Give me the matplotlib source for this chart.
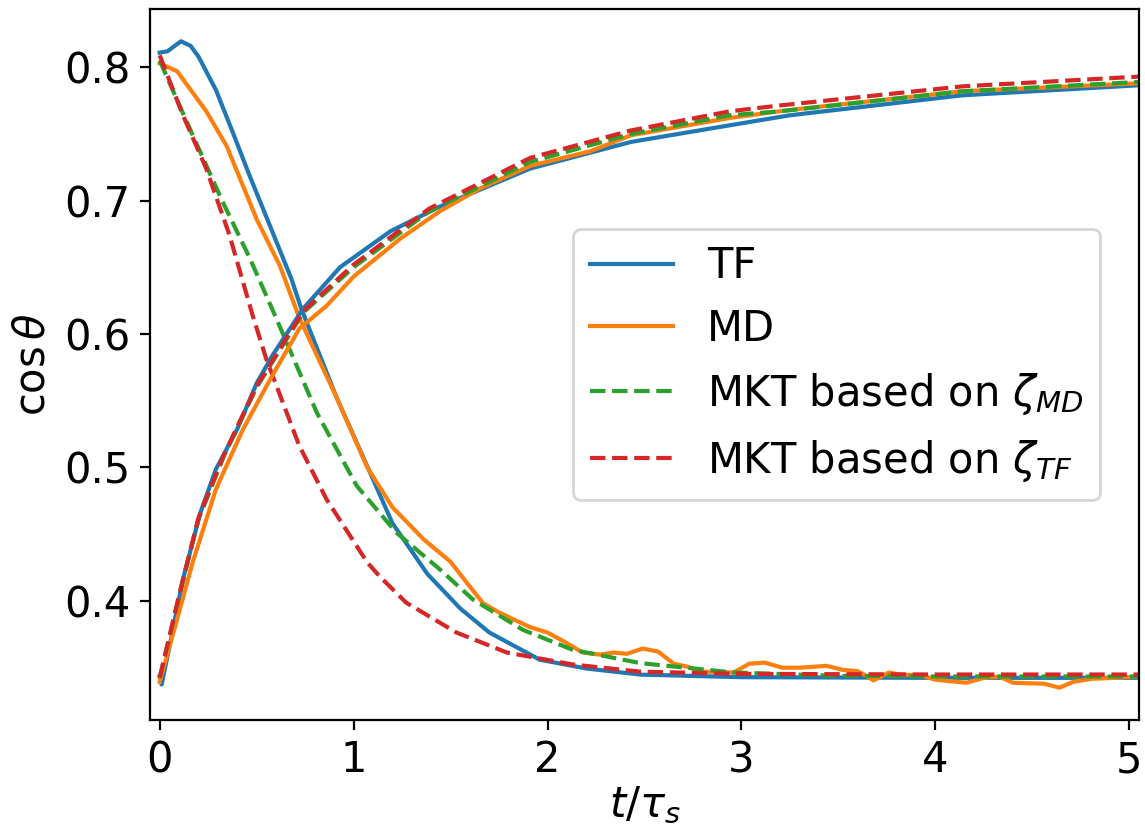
import matplotlib
matplotlib.use("Agg")
import matplotlib.pyplot as plt
import numpy as np

# decreasing curves
tf_dn_t = [0, 0.04, 0.11, 0.16, 0.2, 0.29, 0.38, 0.46, 0.58, 0.68, 0.73, 0.91, 1.10, 1.20, 1.38, 1.55, 1.70, 1.96, 2.2, 2.48, 3.0, 4.0, 5.05]
tf_dn = [0.811, 0.812, 0.8195, 0.816, 0.808, 0.783, 0.75, 0.72, 0.677, 0.641, 0.619, 0.553, 0.491, 0.458, 0.420, 0.394, 0.376, 0.3556, 0.349, 0.3444, 0.3425, 0.342, 0.342]

md_dn_t = [0, 0.09, 0.24, 0.345, 0.50, 0.62, 0.72, 0.91, 1.07, 1.20, 1.36, 1.50, 1.58, 1.667, 1.75, 1.91, 2.0, 2.10, 2.18,
           2.27, 2.34, 2.41, 2.49, 2.57, 2.65, 2.72, 2.80, 2.96, 3.04, 3.12, 3.21, 3.30, 3.44, 3.52, 3.60, 3.65, 3.68,
           3.76, 3.82, 3.92, 4.0, 4.16, 4.25, 4.33, 4.40, 4.56, 4.64, 4.71, 4.81, 4.93, 5.05]
md_dn = [0.803, 0.797, 0.767, 0.741, 0.686, 0.651, 0.612, 0.553, 0.50, 0.470, 0.446, 0.429, 0.414, 0.398, 0.391, 0.380, 0.376, 0.368, 0.361,
         0.3594, 0.361, 0.360, 0.364, 0.3617, 0.3526, 0.3504, 0.3466, 0.346, 0.3526, 0.3534, 0.3496, 0.3496, 0.351, 0.348, 0.347, 0.3429, 0.340,
         0.346, 0.3444, 0.344, 0.3406, 0.3383, 0.342, 0.3429, 0.3383, 0.3376, 0.3346, 0.339, 0.3413, 0.342, 0.343]

mkt_md_dn_t = [0, 0.155, 0.325, 0.464, 0.60, 0.81, 1.016, 1.22, 1.445, 1.615, 1.873, 2.13, 2.48, 2.96, 3.5, 4.0, 5.05]
mkt_md_dn = [0.805, 0.754, 0.699, 0.657, 0.612, 0.541, 0.486, 0.451, 0.4233, 0.4008, 0.378, 0.363, 0.353, 0.346, 0.3435, 0.343, 0.343]

mkt_tf_dn_t = [0, 0.12, 0.24, 0.36, 0.48, 0.55, 0.72, 0.86, 1.07, 1.135, 1.27, 1.53, 1.79, 2.13, 2.48, 3.0, 4.0, 5.05]
mkt_tf_dn = [0.809, 0.764, 0.724, 0.674, 0.6135, 0.581, 0.516, 0.476, 0.4286, 0.418, 0.3985, 0.376, 0.361, 0.352, 0.3466, 0.345, 0.3445, 0.3445]

# increasing curves
tf_up_t = [0, 0.01, 0.05, 0.12, 0.21, 0.29, 0.40, 0.50, 0.58, 0.74, 0.93, 1.19, 1.445, 1.91, 2.43, 2.94, 3.25, 4.14, 5.05]
tf_up = [0.343, 0.337, 0.365, 0.416, 0.466, 0.4985, 0.5286, 0.563, 0.5835, 0.619, 0.650, 0.677, 0.6955, 0.724, 0.744, 0.7565, 0.764, 0.779, 0.7865]

md_up_t = [0, 0.09, 0.17, 0.29, 0.43, 0.57, 0.72, 0.86, 1.0, 1.24, 1.445, 1.65, 1.91, 2.22, 2.43, 2.94, 3.25, 4.14, 5.05]
md_up = [0.339, 0.386, 0.4286, 0.4835, 0.5286, 0.566, 0.604, 0.621, 0.643, 0.6714, 0.692, 0.709, 0.726, 0.737, 0.749, 0.762, 0.768, 0.782, 0.788]

mkt_up_t = [0, 0.1, 0.2, 0.33, 0.5, 0.74, 1.0, 1.39, 1.91, 2.43, 2.94, 3.2, 4.14, 5.05]
mkt_md_up = [0.342, 0.403, 0.461, 0.508, 0.560, 0.616, 0.650, 0.692, 0.729, 0.750, 0.764, 0.767, 0.782, 0.789]
mkt_tf_up = [0.342, 0.404, 0.462, 0.509, 0.561, 0.617, 0.652, 0.694, 0.732, 0.7526, 0.767, 0.7714, 0.7857, 0.793]

plt.rcParams['font.size'] = 15

fig = plt.figure(figsize=(5.725, 4.15), dpi=200)
ax = fig.add_axes([0.131, 0.1325, 0.8638, 0.8567])

ax.plot(tf_dn_t, tf_dn, color='C0', label='TF')
ax.plot(md_dn_t, md_dn, color='C1', label='MD')
ax.plot(mkt_md_dn_t, mkt_md_dn, color='C2', linestyle='--', label=r'MKT based on $\zeta_{MD}$')
ax.plot(mkt_tf_dn_t, mkt_tf_dn, color='C3', linestyle='--', label=r'MKT based on $\zeta_{TF}$')

ax.plot(tf_up_t, tf_up, color='C0')
ax.plot(md_up_t, md_up, color='C1')
ax.plot(mkt_up_t, mkt_md_up, color='C2', linestyle='--')
ax.plot(mkt_up_t, mkt_tf_up, color='C3', linestyle='--')

ax.set_xlim(-0.05, 5.05)
ax.set_xticks([0, 1, 2, 3, 4, 5])
ax.set_yticks([0.4, 0.5, 0.6, 0.7, 0.8])
ax.set_xlabel(r'$t/\tau_s$', labelpad=1)
ax.set_ylabel(r'$\cos\theta$')
ax.legend(loc='center right', bbox_to_anchor=(0.9606, 0.5), borderaxespad=0)

fig.savefig('out.png', dpi=200)
